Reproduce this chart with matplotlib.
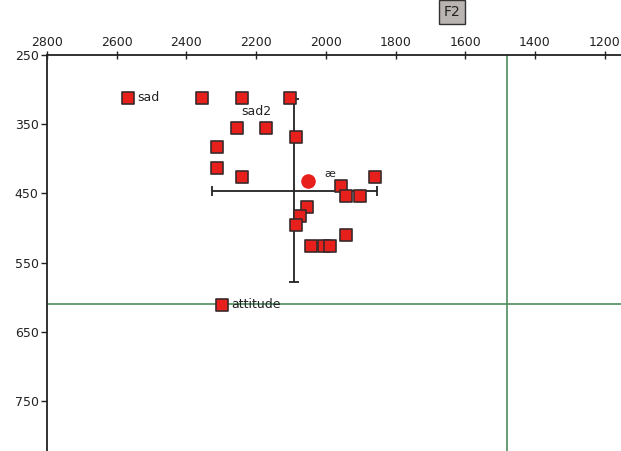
import matplotlib
matplotlib.use("Agg")
import matplotlib.pyplot as plt

# vowel tokens (F2, F1) in Hz
f2 = [2568, 2355, 2240, 2103, 2256, 2172, 2086, 2313, 2313, 2240,
      1859, 1957, 1943, 1902, 2055, 2074, 2086, 1943, 2043, 2005, 1988, 2299]
f1 = [312, 312, 312, 312, 356, 356, 369, 383, 413, 426,
      426, 439, 453, 453, 469, 483, 496, 510, 526, 526, 526, 611]

# labelled tokens
labels = ['sad', 'sad2', 'attitude']
label_f2 = [2568, 2240, 2299]
label_f1 = [312, 312, 611]

# mean token (circle) and spread
mean_f2, mean_f1 = 2050, 432
cross_f2, cross_f1 = 2090, 446
sd_f2, sd_f1 = 236, 132

# reference lines
ref_f2 = 1480
ref_f1 = 610

xticks = [2800, 2600, 2400, 2200, 2000, 1800, 1600, 1400, 1200]
yticks = [250, 350, 450, 550, 650, 750]

fig = plt.figure(figsize=(6.21, 4.51), dpi=100)
ax = fig.add_axes([47/621, 0, 1 - 47/621, (451 - 55)/451])

ax.axvline(ref_f2, color='#4d8c5c', lw=1.2, zorder=1)
ax.axhline(ref_f1, color='#4d8c5c', lw=1.2, zorder=1)

ax.errorbar([cross_f2], [cross_f1], xerr=[sd_f2], yerr=[sd_f1],
            fmt='none', ecolor='#222222', elinewidth=1.3, capsize=3.5,
            capthick=1.3, zorder=2)

ax.scatter(f2, f1, marker='s', s=68, facecolor='#e8201c',
           edgecolor='#3a2a2a', linewidths=1.2, zorder=3)
ax.scatter([mean_f2], [mean_f1], marker='o', s=90, facecolor='#e8201c',
           edgecolor='#e8201c', zorder=3)
ax.text(mean_f2 - 45, mean_f1 - 10, 'æ', fontsize=8, ha='left', va='center',
        color='#222222')

ax.text(label_f2[0] - 28, label_f1[0], labels[0], fontsize=9, ha='left',
        va='center', color='#222222')
ax.text(label_f2[1] - 40, label_f1[1] + 19, labels[1], fontsize=9, ha='center',
        va='center', color='#222222')
ax.text(label_f2[2] - 28, label_f1[2], labels[2], fontsize=9, ha='left',
        va='center', color='#222222')

ax.set_xlim(2800, 1153)
ax.set_ylim(822, 250)
ax.xaxis.tick_top()
ax.set_xticks(xticks)
ax.set_yticks(yticks)
ax.tick_params(axis='x', direction='inout', length=6, width=1, pad=1,
               labelsize=9, colors='#222222')
ax.tick_params(axis='y', direction='out', length=4, width=1, pad=2,
               labelsize=9, colors='#222222')
for s in ['right', 'bottom']:
    ax.spines[s].set_visible(False)
for s in ['top', 'left']:
    ax.spines[s].set_linewidth(1.3)
    ax.spines[s].set_color('#222222')

fig.text(452/621, 1 - 12/451, 'F2', fontsize=10, ha='center', va='center',
         color='#222222',
         bbox=dict(boxstyle='square,pad=0.35', facecolor='#b9b3b1',
                   edgecolor='#333333', linewidth=1))

fig.savefig('out.png', dpi=100)
